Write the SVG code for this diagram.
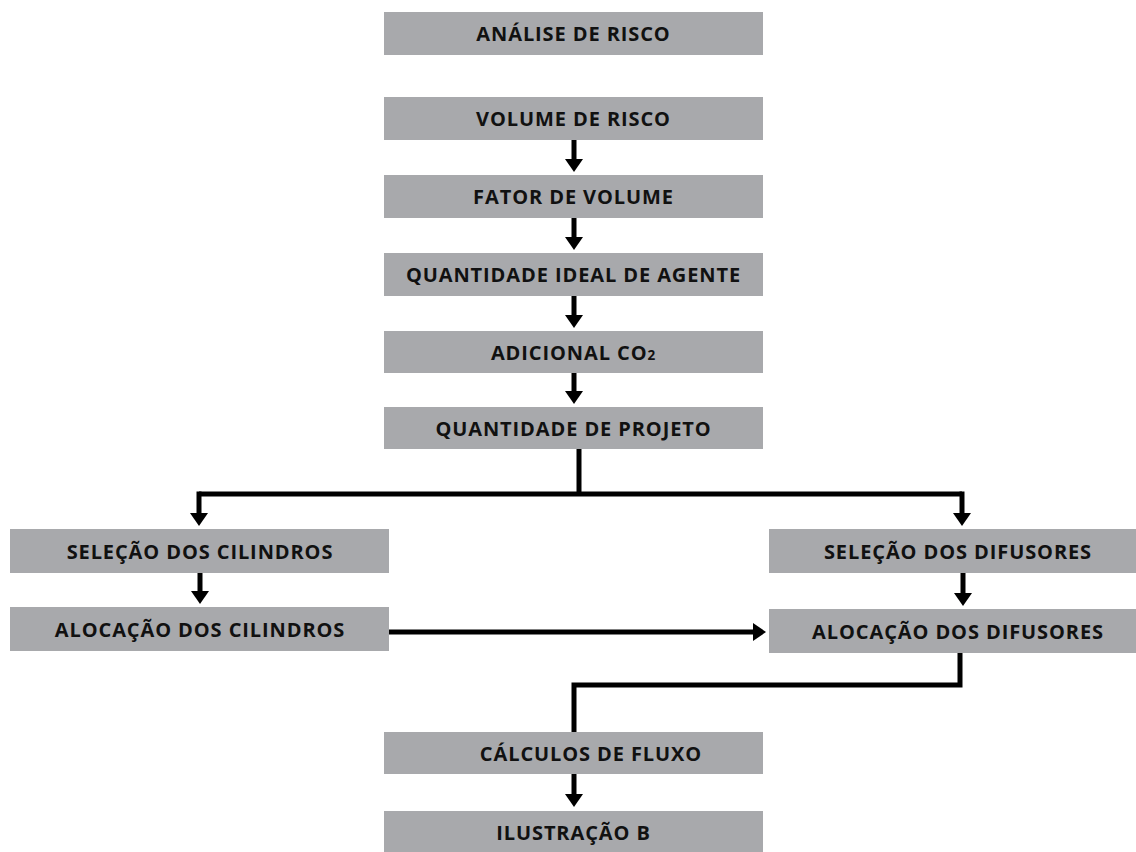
<svg xmlns="http://www.w3.org/2000/svg" width="1136" height="852" viewBox="0 0 1136 852">
<style>
.box{fill:#a8a9ac}
.t{font-family:"Open Sans","Liberation Sans",sans-serif;font-weight:bold;font-size:20px;letter-spacing:0.9px;fill:#111;text-anchor:middle}
.c{fill:none;stroke:#000;stroke-width:5}
</style>
<defs>
<marker id="ah" markerUnits="userSpaceOnUse" viewBox="0 0 13 18" refX="2" refY="9" markerWidth="13" markerHeight="18" orient="auto">
<path d="M0,0 L13,9 L0,18 z" fill="#000"/>
</marker>
</defs>
<rect width="1136" height="852" fill="#fff"/>
<g id="n1"><rect class="box" x="384" y="12" width="379" height="43"/><text class="t" x="573.5" y="41">ANÁLISE DE RISCO</text></g>
<g id="n2"><rect class="box" x="384" y="97" width="379" height="43"/><text class="t" x="573.5" y="126">VOLUME DE RISCO</text></g>
<g id="n3"><rect class="box" x="384" y="175" width="379" height="43"/><text class="t" x="573.5" y="204">FATOR DE VOLUME</text></g>
<g id="n4"><rect class="box" x="384" y="253" width="379" height="43"/><text class="t" x="573.5" y="282">QUANTIDADE IDEAL DE AGENTE</text></g>
<g id="n5"><rect class="box" x="384" y="331" width="379" height="42"/><text class="t" x="573.5" y="359.5">ADICIONAL CO<tspan font-size="13.5">2</tspan></text></g>
<g id="n6"><rect class="box" x="384" y="407" width="379" height="42"/><text class="t" x="573.5" y="435.5">QUANTIDADE DE PROJETO</text></g>
<g id="n7"><rect class="box" x="10" y="529" width="379" height="44"/><text class="t" x="200" y="558.5">SELEÇÃO DOS CILINDROS</text></g>
<g id="n8"><rect class="box" x="10" y="607" width="379" height="44"/><text class="t" x="200" y="636.5">ALOCAÇÃO DOS CILINDROS</text></g>
<g id="n9"><rect class="box" x="769" y="529" width="367" height="44"/><text class="t" x="958" y="558.5">SELEÇÃO DOS DIFUSORES</text></g>
<g id="n10"><rect class="box" x="769" y="609" width="367" height="44"/><text class="t" x="958" y="638.5">ALOCAÇÃO DOS DIFUSORES</text></g>
<g id="n11"><rect class="box" x="384" y="732" width="379" height="42"/><text class="t" x="591" y="760.5">CÁLCULOS DE FLUXO</text></g>
<g id="n12"><rect class="box" x="384" y="811" width="379" height="41"/><text class="t" x="573.5" y="839.5">ILUSTRAÇÃO B</text></g>
<g id="connectors">
<path class="c" d="M574,140 V161" marker-end="url(#ah)"/>
<path class="c" d="M574,218 V239" marker-end="url(#ah)"/>
<path class="c" d="M574,296 V317" marker-end="url(#ah)"/>
<path class="c" d="M574,373 V393" marker-end="url(#ah)"/>
<path class="c" d="M579,449 V494"/>
<path class="c" d="M199,494 H962"/>
<path class="c" d="M199,491.5 V515" marker-end="url(#ah)"/>
<path class="c" d="M962,491.5 V515" marker-end="url(#ah)"/>
<path class="c" d="M200,573 V593" marker-end="url(#ah)"/>
<path class="c" d="M963,573 V595" marker-end="url(#ah)"/>
<path class="c" d="M389,632 H755" marker-end="url(#ah)"/>
<path class="c" d="M960,653 V685 H574 V732"/>
<path class="c" d="M574,774 V796" marker-end="url(#ah)"/>
</g>
</svg>
